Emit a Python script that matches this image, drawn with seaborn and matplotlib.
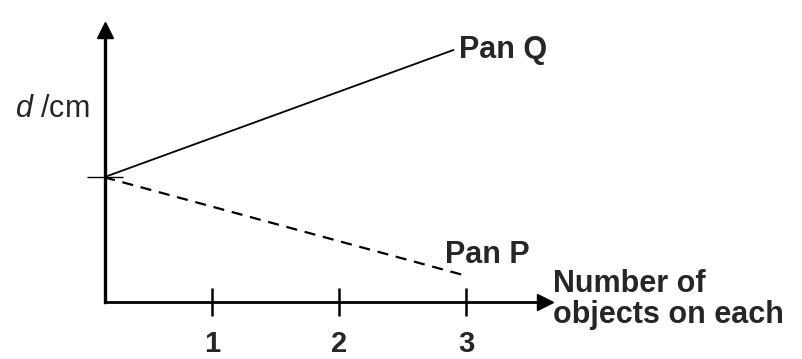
import matplotlib
matplotlib.use("Agg")
import matplotlib.pyplot as plt
import numpy as np
import pandas as pd
import seaborn as sns

# schematic values (arbitrary units)
x_q = [0.15, 2.9]
d_q = [5.0, 10.1]
x_p = [0.15, 3.0]
d_p = [5.0, 1.05]
ticks_x = [1, 2, 3]
tick_labels = ["1", "2", "3"]
start_d = [5.0]

sns.set_theme(style="white")
plt.rcParams['font.family'] = ['Liberation Sans', 'DejaVu Sans']
plt.rcParams['mathtext.fontset'] = 'custom'
plt.rcParams['mathtext.it'] = 'Liberation Sans:italic'
plt.rcParams['mathtext.rm'] = 'Liberation Sans'

fig = plt.figure(figsize=(8.03, 3.59), dpi=100)
ax = fig.add_axes([105 / 803, 57 / 359, 440 / 803, 272 / 359])

sns.lineplot(x=x_q, y=d_q, color='black', linewidth=1.3, ax=ax)
sns.lineplot(x=x_p, y=d_p, color='black', linewidth=1.6, ax=ax)
ax.lines[-1].set_dashes([5, 3.5])

ax.set_xlim(0.157, 3.62)
ax.set_ylim(0, 10.9)

for s in ['top', 'right']:
    ax.spines[s].set_visible(False)
ax.spines['left'].set_linewidth(2.4)
ax.spines['bottom'].set_linewidth(2.0)
ax.spines['left'].set_color('black')
ax.spines['bottom'].set_color('black')

# arrow heads
ax.plot(1, 0, '>', color='black', markersize=11, transform=ax.transAxes, clip_on=False)
ax.plot(0, 1, '^', color='black', markersize=11, transform=ax.transAxes, clip_on=False)

ax.set_xticks(ticks_x)
ax.set_xticklabels(tick_labels, fontsize=21, fontweight='bold')
ax.tick_params(axis='x', direction='inout', length=20, width=1.8, color='black', pad=10, bottom=True)
ax.set_yticks(start_d)
ax.set_yticklabels([''])
ax.tick_params(axis='y', direction='inout', length=26, width=1.0, color='black', left=True)

ax.set_ylabel('$d$ /cm', rotation=0, fontsize=22, ha='right', va='center')
ax.yaxis.set_label_coords(-0.035, 0.71)
ax.set_xlabel('')

ax.text(1.018, 0.01, 'Number of\nobjects on each', transform=ax.transAxes, fontsize=22,
        fontweight='bold', ha='left', va='center', linespacing=1.05)

ax.annotate('Pan Q', xy=(x_q[-1], d_q[-1]), xytext=(4, 0), textcoords='offset points',
            fontsize=22, fontweight='bold', ha='left', va='center')
ax.annotate('Pan P', xy=(x_p[-1], d_p[-1]), xytext=(-15, 15), textcoords='offset points',
            fontsize=22, fontweight='bold', ha='left', va='center')

fig.savefig('out.png', dpi=100)
